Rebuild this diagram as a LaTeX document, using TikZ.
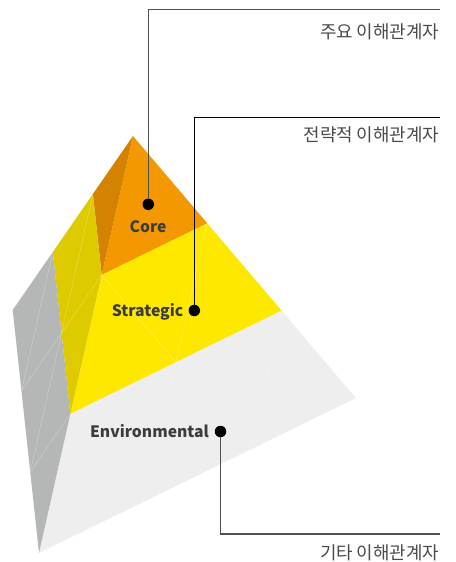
\documentclass[tikz,border=0pt]{standalone}
\usepackage{fontspec}
\setmainfont{Noto Sans CJK KR}
\usetikzlibrary{calc}
\definecolor{orgF}{HTML}{F39800}
\definecolor{orgL}{HTML}{D48300}
\definecolor{yelF}{HTML}{FFE800}
\definecolor{yelL}{HTML}{DDCB00}
\definecolor{gryF}{HTML}{EEEEEE}
\definecolor{gryL}{HTML}{B5B6B6}
\definecolor{txtdark}{HTML}{3C3C3C}
\definecolor{txtkr}{HTML}{4A4A4A}
\definecolor{leadgray}{HTML}{505050}
\begin{document}
\begin{tikzpicture}[x=1pt,y=-1pt,
  gridline/.style={white,opacity=0.3,line width=0.5pt},
  dotnode/.style={circle,fill=black,minimum size=11.5pt,inner sep=0pt},
  enlabel/.style={font=\fontsize{15.7}{18}\selectfont\bfseries,text=txtdark,inner sep=0pt},
  krlabel/.style={font=\fontsize{17.9}{20}\selectfont,text=txtkr,inner sep=0pt,anchor=east},
  leadline/.style={leadgray,line width=1.2pt},
  leadblack/.style={black,line width=1.2pt}]
\useasboundingbox (0,0) rectangle (455,562);
% pyramid corners
\coordinate (A) at (133,136);
\coordinate (L) at (12.7,310);
\coordinate (B) at (39,553);
\coordinate (R) at (356,398);
% subdivisions
\coordinate (P1) at ($(A)!1/3!(B)$);
\coordinate (P2) at ($(A)!2/3!(B)$);
\coordinate (Q1) at ($(A)!1/3!(R)$);
\coordinate (Q2) at ($(A)!2/3!(R)$);
\coordinate (L1) at ($(A)!1/3!(L)$);
\coordinate (L2) at ($(A)!2/3!(L)$);
\coordinate (BR1) at ($(B)!1/3!(R)$);
\coordinate (BR2) at ($(B)!2/3!(R)$);
\coordinate (BL1) at ($(B)!1/3!(L)$);
\coordinate (BL2) at ($(B)!2/3!(L)$);
% faces
\fill[orgF] (A) -- (P1) -- (Q1) -- cycle;
\fill[yelF] (P1) -- (Q1) -- (Q2) -- (P2) -- cycle;
\fill[gryF] (P2) -- (Q2) -- (R) -- (B) -- cycle;
\fill[orgL] (A) -- (L1) -- (P1) -- cycle;
\fill[yelL] (L1) -- (L2) -- (P2) -- (P1) -- cycle;
\fill[gryL] (L2) -- (L) -- (B) -- (P2) -- cycle;
% faint grid
\draw[gridline] (Q1) -- (BR1) (Q2) -- (BR2) (P1) -- (BR2) (P2) -- (BR1);
\draw[gridline] (L1) -- (BL1) (L2) -- (BL2) (P1) -- (BL2) (P2) -- (BL1);
% labels
\node[enlabel,anchor=base] (core) at (148,232.7) {Core};
\node[enlabel,anchor=base east] (strat) at (183.5,316) {Strategic};
\node[enlabel,anchor=base east] (env) at (209,437.3) {Environmental};
\node[dotnode] (cdot) at (148.3,204.3) {};
\node[dotnode] (sdot) at (194.3,310.5) {};
\node[dotnode] (edot) at (220.5,431.5) {};
\coordinate (cend) at (440,9.5);
\coordinate (send) at (440,117.7);
\coordinate (eend) at (440,534);
\draw[leadline] (cdot.north) |- (cend);
\draw[leadblack] (sdot.north) |- (send);
\draw[leadline] (edot.south) |- (eend);
\node[krlabel] (ck) at (439.5,31.7) {주요 이해관계자};
\node[krlabel] (sk) at (439.5,134.7) {전략적 이해관계자};
\node[krlabel] (ek) at (439.5,553) {기타 이해관계자};
\end{tikzpicture}
\end{document}
